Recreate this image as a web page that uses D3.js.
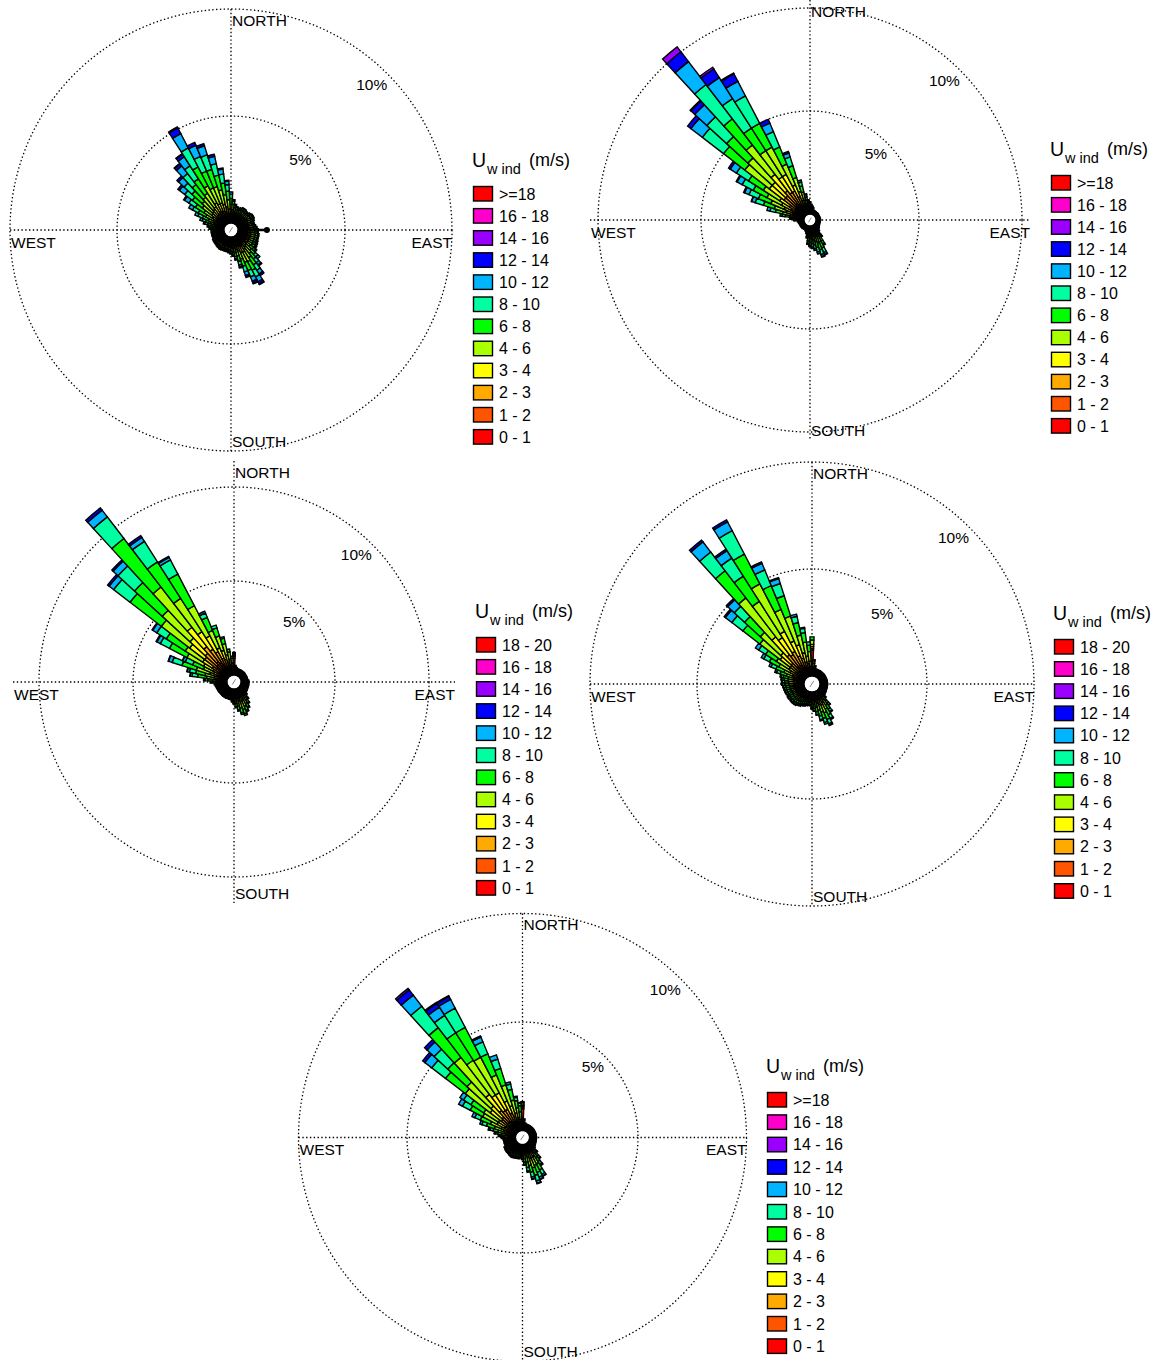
<!DOCTYPE html>
<html>
<head>
<meta charset="utf-8">
<script src="https://cdn.jsdelivr.net/npm/d3@7"></script>
<style>
  body { margin: 0; background: #fff; }
  svg { display: block; font-family: "Liberation Sans", Arial, sans-serif; }
</style>
</head>
<body>
<svg id="chart" width="1159" height="1360"></svg>
<script>
// Speed classes (m/s), innermost first
const speedBins = ["0 - 1", "1 - 2", "2 - 3", "3 - 4", "4 - 6", "6 - 8", "8 - 10", "10 - 12", "12 - 14", "14 - 16", "16 - 18", ">=18"];
const speedBinsTo20 = ["0 - 1", "1 - 2", "2 - 3", "3 - 4", "4 - 6", "6 - 8", "8 - 10", "10 - 12", "12 - 14", "14 - 16", "16 - 18", "18 - 20"];
const binColors = ["#ff0000", "#ff5500", "#ffaa00", "#ffff00", "#aaff00", "#00ff00", "#00ffa0", "#00b4ff", "#0000ff", "#9900ff", "#ff00cc", "#ff0000"];
const compassLabels = ["NORTH", "EAST", "SOUTH", "WEST"];
const ringLevels = [5, 10];

// Each row: [direction (deg), frequency % per speed class ...]
const windA = [
  [0, .1,.12,.15,.18,.32,.28,.2,.1],
  [5, .12,.18,.18,.15,.25,.15,.07],
  [10, .1,.15,.15,.13,.2,.12,.05],
  [15, .1,.14,.13,.12,.18,.1,.03],
  [20, .1,.13,.13,.11,.17,.08,.03],
  [25, .1,.14,.13,.12,.18,.1,.03],
  [30, .1,.15,.15,.12,.19,.1,.04],
  [35, .1,.15,.15,.12,.19,.1,.04],
  [40, .1,.14,.13,.12,.18,.1,.03],
  [45, .1,.14,.13,.12,.18,.1,.03],
  [50, .1,.15,.15,.12,.19,.1,.04],
  [55, .1,.16,.16,.13,.2,.11,.04],
  [60, .1,.16,.16,.13,.2,.11,.04],
  [65, .1,.15,.15,.12,.19,.1,.04],
  [70, .1,.14,.13,.12,.18,.1,.03],
  [75, .1,.14,.13,.12,.18,.1,.03],
  [80, .1,.15,.15,.12,.19,.1,.04],
  [85, .1,.16,.16,.13,.2,.11,.04],
  [90, .1,.17,.17,.14,.21,.12,.04],
  [95, .1,.17,.17,.14,.21,.12,.04],
  [100, .1,.17,.18,.15,.23,.12,.05],
  [105, .1,.17,.18,.15,.23,.12,.05],
  [110, .1,.17,.18,.15,.23,.12,.05],
  [115, .1,.17,.18,.15,.23,.13,.06,.02],
  [120, .1,.17,.18,.15,.24,.14,.07,.02],
  [125, .1,.17,.18,.16,.25,.15,.07,.02],
  [130, .1,.14,.16,.16,.25,.2,.12,.07],
  [135, .1,.15,.18,.2,.32,.26,.17,.12],
  [140, .1,.16,.2,.22,.38,.32,.22,.14,.06],
  [145, .1,.18,.22,.26,.45,.4,.3,.2,.09],
  [150, .1,.2,.25,.3,.5,.45,.35,.25,.12,.03],
  [155, .1,.2,.25,.28,.48,.42,.32,.22,.1,.03],
  [160, .1,.17,.2,.24,.4,.35,.27,.18,.09],
  [165, .1,.15,.18,.2,.3,.25,.17,.1,.05],
  [170, .1,.13,.15,.15,.22,.18,.12,.05],
  [175, .1,.15,.15,.13,.2,.12,.05],
  [180, .1,.14,.14,.12,.17,.1,.03],
  [185, .1,.13,.13,.11,.16,.09,.03],
  [190, .1,.12,.12,.1,.15,.08,.03],
  [195, .1,.12,.12,.1,.14,.08,.04],
  [200, .1,.12,.12,.1,.15,.08,.03],
  [205, .1,.12,.12,.1,.14,.08,.04],
  [210, .1,.12,.13,.11,.15,.08,.03],
  [215, .1,.12,.12,.1,.14,.08,.04],
  [220, .1,.12,.12,.1,.14,.08,.03],
  [225, .1,.11,.12,.1,.13,.07,.03],
  [230, .1,.11,.11,.1,.13,.07,.03],
  [235, .1,.11,.11,.1,.13,.07,.03],
  [240, .1,.11,.11,.09,.13,.07,.03],
  [245, .1,.11,.11,.09,.12,.05,.02],
  [250, .1,.11,.11,.09,.12,.05,.02],
  [255, .1,.1,.11,.09,.12,.06,.02],
  [260, .1,.11,.11,.09,.12,.05,.02],
  [265, .1,.1,.1,.09,.12,.06,.03],
  [270, .1,.11,.11,.09,.12,.05,.02],
  [275, .1,.1,.1,.1,.13,.1,.05,.02],
  [280, .1,.1,.1,.1,.15,.13,.08,.04],
  [285, .1,.1,.1,.1,.2,.2,.13,.07],
  [290, .1,.11,.12,.13,.23,.23,.17,.11],
  [295, .1,.12,.14,.16,.3,.3,.23,.15],
  [300, .1,.13,.17,.2,.4,.4,.3,.2],
  [305, .1,.14,.2,.25,.48,.48,.36,.24,.05],
  [310, .1,.16,.23,.3,.58,.58,.45,.32,.08],
  [315, .1,.17,.25,.33,.65,.65,.5,.35,.1],
  [320, .1,.17,.28,.35,.7,.75,.65,.45,.13,.02],
  [325, .1,.18,.3,.38,.75,.8,.72,.5,.15,.02],
  [330, .1,.2,.35,.45,.9,1.0,1.0,.75,.3,.05],
  [335, .1,.2,.3,.4,.8,.85,.75,.55,.15],
  [340, .1,.2,.3,.4,.8,.85,.7,.45,.1],
  [345, .1,.18,.27,.35,.7,.7,.55,.35,.1],
  [350, .1,.16,.22,.3,.56,.55,.42,.24,.05],
  [355, .1,.14,.18,.24,.44,.4,.3,.16,.04]
];
// Single direction marker drawn as a stick: [direction, length %]
const vectorA = [[90, 1.35]];

const windB = [
  [0, .06,.08,.1,.1,.12,.1,.04],
  [5, .05,.07,.08,.08,.1,.07,.03],
  [10, .05,.06,.07,.07,.08,.05,.02],
  [15, .04,.05,.06,.06,.06,.04,.02],
  [20, .03,.04,.05,.04,.05,.02],
  [25, .03,.04,.04,.03,.04,.02],
  [30, .03,.04,.04,.04,.04,.02],
  [35, .03,.04,.04,.03,.04,.02],
  [40, .03,.04,.04,.03,.04,.01],
  [45, .03,.04,.04,.03,.04,.02],
  [50, .03,.04,.04,.04,.04,.02],
  [55, .03,.04,.04,.03,.04,.02],
  [60, .03,.04,.04,.03,.04,.01],
  [65, .03,.04,.04,.03,.04,.02],
  [70, .03,.04,.04,.04,.04,.02],
  [75, .03,.04,.04,.03,.04,.02],
  [80, .03,.04,.04,.03,.04,.02],
  [85, .03,.04,.04,.04,.05,.02],
  [90, .03,.04,.05,.04,.05,.02],
  [95, .03,.04,.04,.04,.04,.02],
  [100, .03,.04,.04,.03,.04,.02],
  [105, .03,.04,.04,.04,.04,.02],
  [110, .03,.04,.04,.03,.04,.02],
  [115, .03,.04,.04,.04,.05,.02],
  [120, .03,.04,.05,.04,.05,.02],
  [125, .03,.04,.05,.05,.05,.03],
  [130, .04,.04,.05,.05,.06,.03,.01],
  [135, .04,.05,.05,.05,.06,.04,.01],
  [140, .04,.06,.06,.06,.08,.06,.04],
  [145, .05,.08,.08,.09,.14,.13,.1,.03],
  [150, .06,.1,.12,.14,.23,.22,.16,.07],
  [155, .07,.12,.16,.18,.33,.32,.24,.11,.02],
  [160, .07,.12,.16,.2,.34,.34,.25,.1,.02],
  [165, .07,.11,.14,.17,.3,.3,.21,.1],
  [170, .06,.1,.12,.15,.26,.25,.18,.08],
  [175, .06,.1,.11,.14,.24,.22,.16,.07],
  [180, .06,.09,.1,.13,.22,.2,.14,.06],
  [185, .06,.08,.09,.12,.2,.18,.12,.05],
  [190, .05,.06,.07,.08,.13,.11,.07,.03],
  [195, .04,.05,.05,.06,.08,.07,.04,.01],
  [200, .04,.04,.04,.05,.06,.05,.02],
  [205, .03,.04,.04,.04,.05,.03,.02],
  [210, .03,.04,.04,.04,.05,.03,.02],
  [215, .03,.04,.04,.04,.05,.03,.01],
  [220, .03,.04,.04,.04,.05,.03,.02],
  [225, .03,.04,.04,.05,.05,.03,.02],
  [230, .03,.04,.04,.04,.05,.03,.02],
  [235, .03,.04,.04,.04,.05,.04,.02],
  [240, .03,.04,.04,.04,.05,.03,.02],
  [245, .03,.04,.05,.04,.05,.03,.02],
  [250, .03,.04,.04,.04,.05,.03,.02],
  [255, .03,.04,.04,.05,.06,.04,.02],
  [260, .03,.04,.05,.05,.06,.04,.02],
  [265, .04,.05,.05,.05,.07,.05,.02],
  [270, .05,.07,.07,.07,.1,.08,.04,.02],
  [275, .06,.08,.1,.1,.15,.12,.07,.02],
  [280, .07,.1,.14,.15,.25,.22,.15,.1],
  [285, .08,.15,.2,.25,.4,.35,.27,.15],
  [290, .1,.18,.3,.35,.6,.55,.42,.18,.02],
  [295, .1,.2,.35,.42,.7,.65,.5,.23,.05],
  [300, .12,.25,.4,.5,.8,.75,.6,.28,.05],
  [305, .15,.3,.45,.55,.95,.85,.7,.35,.1],
  [310, .2,.4,.7,.9,1.5,1.3,1.3,.7,.2],
  [315, .2,.4,.7,.9,1.6,1.4,1.3,.8,.25,.05],
  [320, .2,.5,.8,1.0,1.8,1.6,2.1,1.4,.6,.3],
  [325, .2,.4,.7,.9,1.5,1.3,1.7,1.2,.5,.1],
  [330, .2,.4,.7,.9,1.5,1.3,1.5,.8,.4,.05],
  [335, .15,.3,.5,.6,1.1,.9,.8,.45,.2],
  [340, .12,.25,.35,.45,.7,.6,.45,.2,.08],
  [345, .1,.15,.2,.25,.4,.3,.2,.1],
  [350, .08,.12,.15,.15,.2,.15,.1,.05],
  [355, .07,.1,.12,.12,.14,.1,.05]
];

const windC = [
  [0, .9,.1,.05,.05,.05,.05],
  [5, .06,.08,.1,.1,.12,.06],
  [10, .05,.07,.08,.08,.1,.04],
  [15, .05,.06,.07,.07,.08,.03],
  [20, .05,.06,.07,.06,.08,.03],
  [25, .05,.06,.07,.07,.08,.03],
  [30, .05,.06,.06,.07,.08,.03],
  [35, .05,.06,.07,.07,.08,.03],
  [40, .05,.06,.07,.06,.08,.03],
  [45, .05,.06,.07,.07,.08,.03],
  [50, .05,.06,.07,.07,.09,.03],
  [55, .05,.06,.07,.07,.08,.03],
  [60, .05,.06,.07,.06,.08,.03],
  [65, .05,.06,.07,.07,.08,.03],
  [70, .05,.06,.07,.07,.08,.04],
  [75, .05,.06,.07,.07,.08,.03],
  [80, .05,.06,.07,.07,.09,.03],
  [85, .05,.07,.08,.08,.1,.04],
  [90, .05,.07,.08,.08,.1,.04],
  [95, .05,.07,.08,.08,.1,.04],
  [100, .05,.07,.08,.08,.1,.04],
  [105, .05,.07,.08,.08,.1,.05],
  [110, .05,.07,.08,.08,.1,.04],
  [115, .05,.07,.08,.09,.1,.04],
  [120, .05,.07,.08,.08,.11,.05],
  [125, .05,.07,.08,.09,.11,.05],
  [130, .05,.07,.09,.09,.12,.06],
  [135, .06,.08,.1,.1,.14,.08,.02],
  [140, .07,.1,.12,.14,.2,.12,.05],
  [145, .08,.12,.15,.17,.26,.16,.06],
  [150, .09,.14,.18,.2,.32,.2,.07],
  [155, .1,.15,.2,.23,.37,.22,.08],
  [160, .1,.17,.22,.25,.42,.25,.09],
  [165, .1,.16,.2,.23,.38,.24,.09],
  [170, .09,.14,.17,.2,.33,.2,.07],
  [175, .08,.12,.14,.17,.27,.16,.06],
  [180, .07,.1,.12,.14,.22,.12,.03],
  [185, .06,.09,.11,.12,.19,.1,.03],
  [190, .06,.08,.1,.1,.14,.08,.03],
  [195, .06,.08,.1,.1,.13,.08,.03],
  [200, .06,.08,.1,.1,.13,.07,.03],
  [205, .06,.08,.1,.1,.13,.08,.03],
  [210, .06,.08,.1,.11,.13,.08,.03],
  [215, .06,.08,.1,.1,.13,.08,.03],
  [220, .06,.08,.1,.1,.14,.08,.03],
  [225, .06,.08,.1,.1,.13,.08,.03],
  [230, .06,.08,.1,.1,.13,.07,.03],
  [235, .06,.08,.1,.1,.13,.08,.03],
  [240, .06,.08,.1,.11,.14,.08,.03],
  [245, .06,.08,.1,.1,.13,.08,.03],
  [250, .06,.08,.1,.1,.14,.09,.04],
  [255, .06,.08,.1,.11,.14,.09,.04],
  [260, .06,.08,.11,.11,.15,.1,.04],
  [265, .06,.08,.11,.12,.16,.11,.05],
  [270, .06,.09,.12,.13,.2,.15,.1,.05],
  [275, .07,.1,.14,.16,.3,.26,.15,.05,.02],
  [280, .08,.13,.2,.24,.45,.48,.3,.1,.02],
  [285, .08,.14,.22,.26,.5,.52,.34,.12,.02],
  [290, .1,.2,.3,.38,.75,.8,.55,.2,.02],
  [295, .08,.16,.25,.3,.6,.62,.42,.15,.02],
  [300, .15,.3,.45,.55,1.0,1.05,.55,.2,.05],
  [305, .15,.35,.5,.6,1.1,1.2,.6,.25,.05],
  [310, .25,.55,.8,1.0,1.9,2.1,1.1,.3,.1],
  [315, .25,.6,.85,1.1,2.0,2.0,1.2,.35,.09],
  [320, .3,.7,1.0,1.3,2.7,3.25,1.45,.45,.15],
  [325, .25,.6,.85,1.1,2.1,2.3,1.3,.25,.11],
  [330, .2,.5,.75,.95,1.8,1.9,.85,.15,.06],
  [335, .15,.35,.5,.6,1.0,.75,.25,.1],
  [340, .15,.3,.45,.5,.8,.45,.15],
  [345, .12,.25,.35,.4,.6,.3,.08],
  [350, .1,.2,.25,.3,.4,.15],
  [355, .1,.15,.2,.2,.25,.1]
];

const windD = [
  [0, 1.2,.08,.1,.1,.2,.15],
  [5, .08,.1,.12,.12,.18,.12,.05],
  [10, .06,.08,.09,.09,.12,.06],
  [15, .04,.06,.06,.06,.07,.04,.02],
  [20, .04,.06,.06,.06,.07,.04,.02],
  [25, .04,.06,.06,.06,.07,.04,.01],
  [30, .04,.06,.06,.06,.07,.04,.02],
  [35, .04,.06,.06,.06,.07,.04,.02],
  [40, .04,.06,.06,.06,.07,.04,.02],
  [45, .04,.06,.06,.06,.07,.03,.02],
  [50, .04,.06,.06,.06,.07,.04,.02],
  [55, .04,.06,.06,.06,.07,.04,.02],
  [60, .04,.06,.06,.06,.07,.04,.01],
  [65, .04,.06,.06,.06,.07,.04,.02],
  [70, .04,.06,.06,.06,.07,.04,.02],
  [75, .04,.06,.06,.06,.07,.04,.02],
  [80, .04,.06,.06,.06,.07,.04,.02],
  [85, .04,.06,.06,.06,.07,.04,.02],
  [90, .04,.06,.06,.06,.08,.04,.02],
  [95, .04,.06,.06,.06,.07,.04,.02],
  [100, .04,.06,.06,.06,.07,.04,.02],
  [105, .04,.06,.06,.06,.07,.04,.02],
  [110, .04,.06,.06,.06,.07,.04,.02],
  [115, .04,.06,.06,.06,.08,.04,.02],
  [120, .04,.06,.06,.07,.08,.04,.02],
  [125, .04,.06,.06,.07,.08,.05,.02],
  [130, .04,.06,.07,.07,.09,.05,.02],
  [135, .05,.07,.08,.09,.12,.08,.04],
  [140, .07,.1,.12,.13,.2,.16,.1,.02],
  [145, .08,.12,.15,.17,.27,.23,.14,.04],
  [150, .09,.14,.18,.2,.34,.3,.19,.06],
  [155, .1,.16,.2,.23,.4,.34,.22,.08],
  [160, .1,.15,.18,.21,.37,.31,.2,.08],
  [165, .09,.13,.16,.19,.32,.27,.18,.06],
  [170, .08,.11,.13,.15,.26,.21,.13,.03],
  [175, .07,.1,.11,.13,.2,.17,.1,.02],
  [180, .07,.09,.1,.12,.18,.15,.07,.02],
  [185, .06,.08,.09,.1,.15,.12,.05],
  [190, .06,.08,.09,.1,.15,.11,.05],
  [195, .06,.08,.1,.1,.15,.11,.05,.02],
  [200, .06,.08,.1,.11,.16,.12,.06,.02],
  [205, .06,.09,.1,.11,.17,.13,.06,.02],
  [210, .07,.09,.11,.12,.18,.14,.07,.02],
  [215, .07,.09,.11,.12,.19,.15,.08,.02],
  [220, .07,.1,.12,.13,.2,.16,.08,.03],
  [225, .07,.1,.12,.13,.2,.16,.09,.03],
  [230, .07,.1,.12,.13,.21,.16,.09,.03],
  [235, .07,.1,.12,.13,.2,.16,.08,.03],
  [240, .07,.1,.12,.14,.21,.17,.09,.03],
  [245, .07,.1,.12,.13,.2,.16,.09,.03],
  [250, .07,.1,.12,.14,.21,.17,.09,.03],
  [255, .07,.1,.12,.14,.22,.17,.1,.03],
  [260, .07,.1,.13,.14,.22,.18,.1,.03],
  [265, .07,.1,.13,.15,.23,.18,.1,.04],
  [270, .08,.11,.13,.15,.24,.19,.11,.04],
  [275, .08,.11,.13,.15,.25,.19,.11,.04],
  [280, .08,.11,.14,.16,.26,.2,.11,.04],
  [285, .08,.11,.14,.17,.28,.22,.12,.04],
  [290, .08,.11,.15,.19,.36,.3,.18,.08],
  [295, .08,.12,.18,.22,.45,.4,.25,.1],
  [300, .1,.15,.22,.3,.6,.5,.3,.13],
  [305, .1,.18,.27,.35,.7,.6,.38,.18],
  [310, .15,.3,.45,.6,1.2,1.0,.65,.38,.07],
  [315, .15,.3,.5,.65,1.3,1.0,.65,.42,.08],
  [320, .2,.45,.7,1.05,2.3,1.6,1.1,.6,.1],
  [325, .2,.4,.65,.95,2.0,1.4,1.0,.42,.08],
  [330, .2,.45,.7,1.05,2.5,1.57,1.23,.47,.1],
  [335, .15,.35,.55,.75,1.6,1.2,.8,.33,.07],
  [340, .15,.3,.45,.65,1.4,1.0,.6,.24,.05],
  [345, .12,.22,.33,.45,.85,.6,.3,.1],
  [350, .1,.2,.3,.35,.65,.45,.2,.05],
  [355, .1,.15,.2,.25,.45,.3,.15]
];

const windE = [
  [0, 1.0,.06,.06,.06,.1,.05],
  [5, .06,.08,.1,.1,.12,.06,.02],
  [10, .05,.06,.07,.07,.08,.04],
  [15, .04,.05,.06,.05,.06,.04,.02],
  [20, .04,.05,.06,.05,.06,.04,.02],
  [25, .04,.05,.06,.05,.06,.04,.01],
  [30, .04,.05,.06,.05,.06,.04,.02],
  [35, .04,.05,.06,.05,.06,.03,.02],
  [40, .04,.05,.06,.05,.06,.04,.02],
  [45, .04,.05,.06,.05,.06,.04,.02],
  [50, .04,.05,.06,.05,.06,.04,.01],
  [55, .04,.05,.06,.05,.06,.04,.02],
  [60, .04,.05,.06,.05,.06,.04,.02],
  [65, .04,.05,.06,.05,.06,.03,.02],
  [70, .04,.05,.06,.05,.06,.04,.02],
  [75, .04,.05,.06,.05,.06,.04,.02],
  [80, .04,.05,.06,.05,.06,.04,.01],
  [85, .04,.05,.06,.05,.06,.04,.02],
  [90, .04,.05,.06,.06,.06,.04,.02],
  [95, .04,.05,.06,.05,.06,.04,.02],
  [100, .04,.05,.06,.05,.06,.04,.02],
  [105, .04,.05,.06,.05,.06,.04,.02],
  [110, .04,.05,.06,.05,.07,.04,.02],
  [115, .04,.05,.06,.06,.07,.04,.02],
  [120, .04,.05,.06,.06,.07,.05,.02],
  [125, .04,.06,.06,.06,.08,.05,.02],
  [130, .05,.06,.07,.07,.09,.06,.02],
  [135, .05,.08,.09,.1,.14,.1,.05,.01],
  [140, .06,.1,.12,.14,.2,.16,.1,.04],
  [145, .07,.12,.15,.17,.27,.22,.15,.06,.01],
  [150, .09,.15,.2,.23,.38,.32,.22,.09,.02],
  [155, .09,.15,.2,.24,.4,.34,.24,.1,.02],
  [160, .1,.16,.21,.25,.43,.37,.26,.11,.03],
  [165, .09,.14,.18,.22,.38,.32,.22,.09,.02],
  [170, .08,.12,.15,.18,.3,.25,.16,.06],
  [175, .07,.1,.12,.14,.22,.18,.1,.03],
  [180, .06,.09,.1,.11,.16,.12,.06],
  [185, .06,.08,.09,.1,.14,.1,.05],
  [190, .06,.08,.09,.1,.15,.11,.06,.02],
  [195, .06,.08,.09,.1,.15,.11,.06,.02],
  [200, .06,.08,.09,.1,.15,.12,.06,.02],
  [205, .06,.08,.1,.1,.16,.12,.06,.02],
  [210, .06,.08,.1,.11,.16,.12,.07,.02],
  [215, .06,.08,.1,.1,.16,.12,.06,.02],
  [220, .06,.08,.09,.1,.15,.11,.06,.02],
  [225, .06,.08,.09,.1,.15,.11,.06,.02],
  [230, .06,.08,.09,.1,.15,.11,.06,.02],
  [235, .06,.08,.09,.1,.14,.1,.06,.02],
  [240, .06,.08,.09,.1,.14,.1,.05,.02],
  [245, .06,.08,.09,.09,.12,.08,.04],
  [250, .06,.08,.09,.09,.12,.08,.04],
  [255, .06,.08,.09,.09,.12,.08,.04],
  [260, .06,.08,.09,.09,.12,.08,.04],
  [265, .06,.08,.09,.09,.13,.09,.04],
  [270, .06,.08,.1,.1,.14,.1,.05,.02],
  [275, .06,.09,.1,.11,.17,.14,.08,.03,.02],
  [280, .07,.1,.12,.14,.22,.18,.1,.05,.02],
  [285, .08,.12,.15,.18,.3,.24,.14,.07,.02],
  [290, .07,.12,.18,.22,.45,.38,.22,.1],
  [295, .08,.15,.22,.28,.55,.5,.28,.14],
  [300, .1,.2,.3,.4,.75,.65,.4,.2],
  [305, .1,.2,.3,.4,.8,.7,.4,.2],
  [310, .15,.3,.45,.65,1.45,1.15,.8,.4,.13],
  [315, .15,.3,.5,.7,1.5,1.2,.85,.45,.15],
  [320, .2,.4,.65,.93,2.15,1.73,1.24,.65,.3,.09],
  [325, .2,.35,.6,.85,1.9,1.5,.95,.45,.2,.06],
  [330, .2,.35,.6,.85,1.85,1.55,1.0,.45,.16,.04],
  [335, .15,.3,.45,.6,1.3,1.05,.6,.24,.05],
  [340, .12,.25,.35,.5,1.0,.8,.45,.2],
  [345, .1,.18,.25,.32,.6,.5,.25,.1],
  [350, .08,.13,.18,.23,.45,.33,.15,.05],
  [355, .07,.1,.15,.2,.35,.28,.12,.03]
];

// Panel placement: centre, axis half-length, calm radius, 10 % radius, legend anchor
const panels = [
  { data: windA, vectors: vectorA, bins: speedBins, cx: 231, cy: 230, R: 221, r0: 7, r10: 221, lx: 473, ly: 194, step: 22.1 },
  { data: windB, vectors: [], bins: speedBins, cx: 810, cy: 220, R: 220, r0: 6, r10: 212, lx: 1051, ly: 183, step: 22.1 },
  { data: windC, vectors: [], bins: speedBinsTo20, cx: 234, cy: 682, R: 221, r0: 7, r10: 195, lx: 476, ly: 645, step: 22.1 },
  { data: windD, vectors: [], bins: speedBinsTo20, cx: 812, cy: 684, R: 222, r0: 8, r10: 222, lx: 1054, ly: 647, step: 22.2 },
  { data: windE, vectors: [], bins: speedBins, cx: 522.5, cy: 1137.5, R: 224, r0: 7, r10: 224, lx: 767, ly: 1100, step: 22.4 }
];

const svg = d3.select("#chart");
const toRad = d => d * Math.PI / 180;
const sectorHalf = 2.5;
const arc = d3.arc();
const dots = "1.4,2.4";

function drawRose(p) {
  const g = svg.append("g").attr("transform", `translate(${p.cx},${p.cy})`);
  const r = d3.scaleLinear().domain([0, 10]).range([p.r0, p.r10]);

  // dotted grid rings and compass axes
  g.selectAll("circle.ring").data(ringLevels).join("circle")
    .attr("class", "ring").attr("r", d => r(d))
    .attr("fill", "none").attr("stroke", "#000").attr("stroke-width", 1.3)
    .attr("stroke-dasharray", dots);
  g.append("line").attr("x1", -p.R).attr("x2", p.R).attr("y1", 0).attr("y2", 0)
    .attr("stroke", "#000").attr("stroke-width", 1.3).attr("stroke-dasharray", dots);
  g.append("line").attr("x1", 0).attr("x2", 0).attr("y1", -p.R).attr("y2", p.R)
    .attr("stroke", "#000").attr("stroke-width", 1.3).attr("stroke-dasharray", dots);

  // stacked sectors
  const segs = [];
  p.data.forEach(row => {
    const dir = row[0];
    let cum = 0;
    row.slice(1).forEach((v, i) => {
      if (v > 0) segs.push({ dir, i, lo: cum, hi: cum + v });
      cum += v;
    });
  });
  g.selectAll("path.seg").data(segs).join("path")
    .attr("class", "seg")
    .attr("d", s => arc({
      innerRadius: r(s.lo), outerRadius: r(s.hi),
      startAngle: toRad(s.dir - sectorHalf), endAngle: toRad(s.dir + sectorHalf)
    }))
    .attr("fill", s => binColors[s.i])
    .attr("stroke", "#000").attr("stroke-width", 1.4);

  // direction sticks
  p.vectors.forEach(([dir, v]) => {
    const a = toRad(dir), len = r(v);
    g.append("line").attr("x1", 0).attr("y1", 0)
      .attr("x2", len * Math.sin(a)).attr("y2", -len * Math.cos(a))
      .attr("stroke", "#000").attr("stroke-width", 2.5);
    g.append("circle").attr("cx", len * Math.sin(a)).attr("cy", -len * Math.cos(a))
      .attr("r", 3).attr("fill", "#000");
  });

  // calm hole with its small tick
  g.append("circle").attr("r", p.r0 - 0.7).attr("fill", "#fff");
  const t0 = toRad(215), t1 = toRad(30), tr = p.r0 * 0.45;
  g.append("line")
    .attr("x1", tr * Math.sin(t0)).attr("y1", -tr * Math.cos(t0))
    .attr("x2", tr * Math.sin(t1)).attr("y2", -tr * Math.cos(t1))
    .attr("stroke", "#888").attr("stroke-width", 1);

  // ring labels
  g.selectAll("text.ringlab").data(ringLevels).join("text")
    .attr("class", "ringlab")
    .attr("x", d => r(d) * Math.SQRT1_2).attr("y", d => -r(d) * Math.SQRT1_2 + 16)
    .attr("text-anchor", "end").attr("font-size", 15.5).text(d => d + "%");

  // compass labels
  const pos = {
    NORTH: { x: 1, y: -p.R + 16.5, anchor: "start" },
    EAST: { x: p.R, y: 17.5, anchor: "end" },
    SOUTH: { x: 1, y: p.R - 4.5, anchor: "start" },
    WEST: { x: -p.R + 1, y: 17.5, anchor: "start" }
  };
  g.selectAll("text.compass").data(compassLabels).join("text")
    .attr("class", "compass")
    .attr("x", d => pos[d].x).attr("y", d => pos[d].y)
    .attr("text-anchor", d => pos[d].anchor).attr("font-size", 15.5).text(d => d);

  // legend
  const lg = svg.append("g").attr("transform", `translate(${p.lx},${p.ly})`);
  lg.append("text").attr("x", -1).attr("y", -27).attr("font-size", 19.5).text("U");
  lg.append("text").attr("x", 14).attr("y", -20).attr("font-size", 14.5).text("w ind");
  lg.append("text").attr("x", 56).attr("y", -28).attr("font-size", 18).text("(m/s)");
  const items = d3.range(p.bins.length).reverse();
  const it = lg.selectAll("g.item").data(items).join("g")
    .attr("class", "item").attr("transform", (d, k) => `translate(0,${k * p.step})`);
  it.append("rect").attr("x", 0.5).attr("y", -7.5).attr("width", 19).attr("height", 14.5)
    .attr("fill", d => binColors[d]).attr("stroke", "#000").attr("stroke-width", 1.4);
  it.append("text").attr("x", 26).attr("y", 5.5).attr("font-size", 16).text(d => p.bins[d]);
}

panels.forEach(drawRose);
</script>
</body>
</html>
